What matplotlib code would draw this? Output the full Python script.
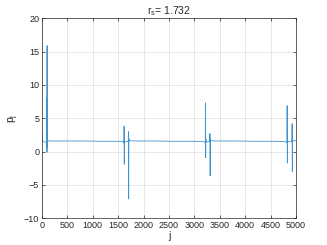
import matplotlib
matplotlib.use("Agg")
import matplotlib.pyplot as plt

plt.rcParams["font.family"] = ["Liberation Sans", "DejaVu Sans"]

# sampled points of p_j along j (baseline with spikes at the defect sites)
j_vals = [0, 2, 4, 8, 15, 30, 60, 85, 92, 96, 98, 100, 102, 104, 106, 108, 112, 120, 150,
          400, 800, 1200, 1500, 1590, 1605, 1612, 1616, 1620, 1624, 1628, 1640, 1670, 1690,
          1698, 1702, 1706, 1710, 1714, 1730, 1800, 2200, 2600, 3000, 3150, 3200, 3214,
          3218, 3222, 3226, 3230, 3250, 3280, 3300, 3306, 3310, 3314, 3318, 3330, 3400,
          3800, 4200, 4600, 4750, 4810, 4822, 4826, 4830, 4834, 4840, 4880, 4910, 4920,
          4924, 4928, 4932, 4940, 4970, 5000]
p_vals = [2.8, 2.2, 1.8, 1.6, 1.55, 1.5, 1.45, 1.4, 1.7, 8.1, -0.1, 15.9, 0.6, 4.2, 1.2, 1.7,
          1.6, 1.65, 1.6,
          1.6, 1.6, 1.55, 1.55, 1.5, 1.4, 1.3, 3.8, -1.9, 2.0, 1.5, 1.45, 1.5, 1.5,
          1.7, 3.0, -7.1, 2.0, 1.6, 1.65, 1.6, 1.6, 1.55, 1.55, 1.5, 1.45, 1.4,
          7.3, -0.9, 1.9, 1.5, 1.45, 1.5, 1.5, 2.7, -3.6, 1.9, 1.6, 1.65, 1.6,
          1.6, 1.55, 1.55, 1.5, 1.45, 1.4, 6.9, -1.7, 1.8, 1.5, 1.45, 1.5, 1.6,
          4.2, -3.0, 1.8, 1.6, 1.65, 1.6]

fig = plt.figure(figsize=(3.27, 2.45), dpi=100)
ax = fig.add_axes([42 / 327, 1 - 218.3 / 245, 254 / 327, 200 / 245])

ax.plot(j_vals, p_vals, color="#3f93cf", linewidth=0.6)

ax.set_xlim(0, 5000)
ax.set_ylim(-10, 20)
ax.set_xticks(range(0, 5001, 500))
ax.set_yticks(range(-10, 21, 5))

ax.grid(True, color=(0.15, 0.15, 0.15), alpha=0.15, linewidth=0.5)
ax.tick_params(direction="in", length=2, width=0.5, labelsize=6.5,
               colors=(0.15, 0.15, 0.15), top=True, right=True, pad=2)
for sp in ax.spines.values():
    sp.set_linewidth(0.5)
    sp.set_color((0.15, 0.15, 0.15))

ax.set_xlabel("j", fontsize=7.5, color=(0.15, 0.15, 0.15), labelpad=1)
ax.set_ylabel("$\\mathregular{p_j}$", fontsize=7.5, color=(0.15, 0.15, 0.15), labelpad=2)
ax.set_title("$\\mathregular{r_s}$= 1.732", fontsize=7.5, color=(0.15, 0.15, 0.15), pad=3)

fig.savefig("out.png", dpi=100)
